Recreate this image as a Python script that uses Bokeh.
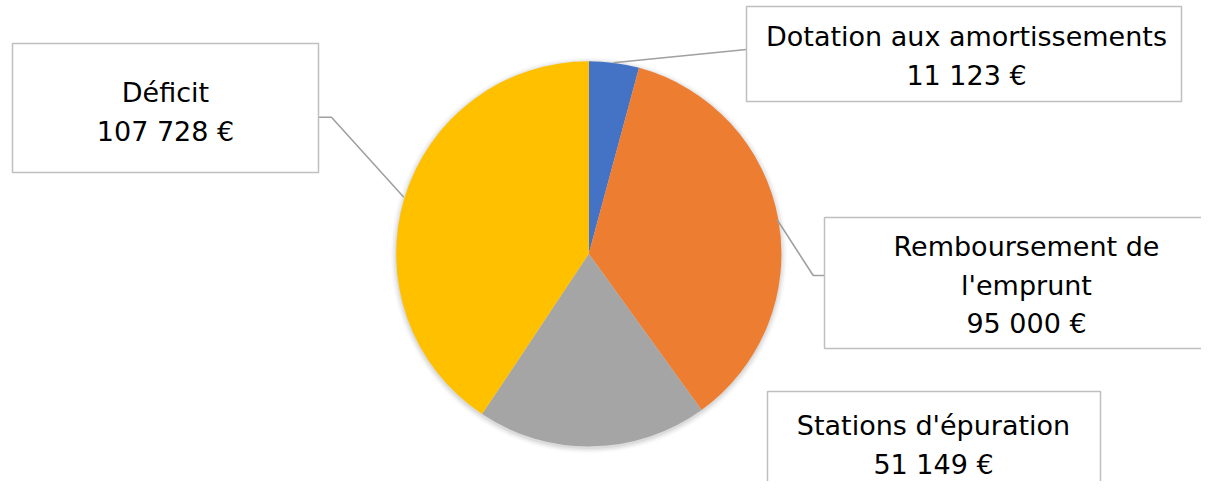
import math
from bokeh.plotting import figure
from bokeh.models import Range1d, ColumnDataSource
from bokeh.core.properties import value
from bokeh.embed import file_html
from bokeh.resources import INLINE

# ---- data ----
categories = ["Dotation aux amortissements", "Remboursement de l'emprunt", "Stations d'épuration", "Déficit"]
label_names = [["Dotation aux amortissements"], ["Remboursement de", "l'emprunt"], ["Stations d'épuration"], ["Déficit"]]
amounts = [11123, 95000, 51149, 107728]
colors = ["#4472C4", "#ED7D31", "#A5A5A5", "#FFC000"]

# ---- layout (reference pixel coordinates, y downward) ----
W, H = 1201, 481
cx, cy, R = 588.3, 253.3, 192.6
boxes = [(746, 6, 1181, 101), (824, 217, 1230, 348), (767, 391, 1100, 510), (12, 43, 318, 172)]
text_cx = [966, 1026, 933, 165]
first_baseline = [36, 246, 425, 92]
line_step = 38.5
leaders = [
    [(612.7, 62.3), (746, 49)],
    [(776.7, 219.3), (812.7, 275), (824, 275)],
    None,
    [(403.3, 196.7), (331, 116.7), (318, 116.7)],
]

def fmt(v):
    return "{:,}".format(v).replace(",", " ") + " €"

p = figure(width=W, height=H, output_backend="svg", toolbar_location=None,
           x_range=Range1d(0, W), y_range=Range1d(-H, 0),
           min_border=0, outline_line_color=None)
p.axis.visible = False
p.grid.visible = False
p.background_fill_color = "white"
p.border_fill_color = "white"

# soft shadow
for i, a in enumerate([0.05, 0.04, 0.03, 0.02]):
    p.circle(x=[cx], y=[-(cy + 1.5)], radius=R + 1 + i * 1.5, fill_color="#000000",
             fill_alpha=a, line_color=None)

total = sum(amounts)
starts, ends = [], []
cum = 0.0
for v in amounts:
    starts.append(math.pi / 2 - cum / total * 2 * math.pi)
    cum += v
    ends.append(math.pi / 2 - cum / total * 2 * math.pi)

src = ColumnDataSource(dict(x=[cx] * len(amounts), y=[-cy] * len(amounts),
                            start=starts, end=ends, color=colors))
p.wedge(x="x", y="y", radius=R, start_angle="start", end_angle="end",
        direction="clock", fill_color="color", line_color=None, source=src)

# leader lines
for ld in leaders:
    if ld:
        p.line(x=[pt[0] for pt in ld], y=[-pt[1] for pt in ld], line_color="#A0A0A0", line_width=1.6)

# label boxes
for (x0, y0, x1, y1) in boxes:
    p.quad(left=[x0], right=[x1], top=[-y0], bottom=[-y1], fill_color="white",
           line_color="#BFBFBF", line_width=1.5)

# label texts
tx, ty, tt = [], [], []
for i, names in enumerate(label_names):
    lines = names + [fmt(amounts[i])]
    for j, s in enumerate(lines):
        tx.append(text_cx[i])
        ty.append(-(first_baseline[i] + j * line_step))
        tt.append(s)
p.text(x=tx, y=ty, text=tt, text_align="center", text_baseline="alphabetic",
       text_font=value("DejaVu Sans"), text_font_size="27px", text_color="#000000")

open("out.html", "w").write(file_html(p, INLINE))
